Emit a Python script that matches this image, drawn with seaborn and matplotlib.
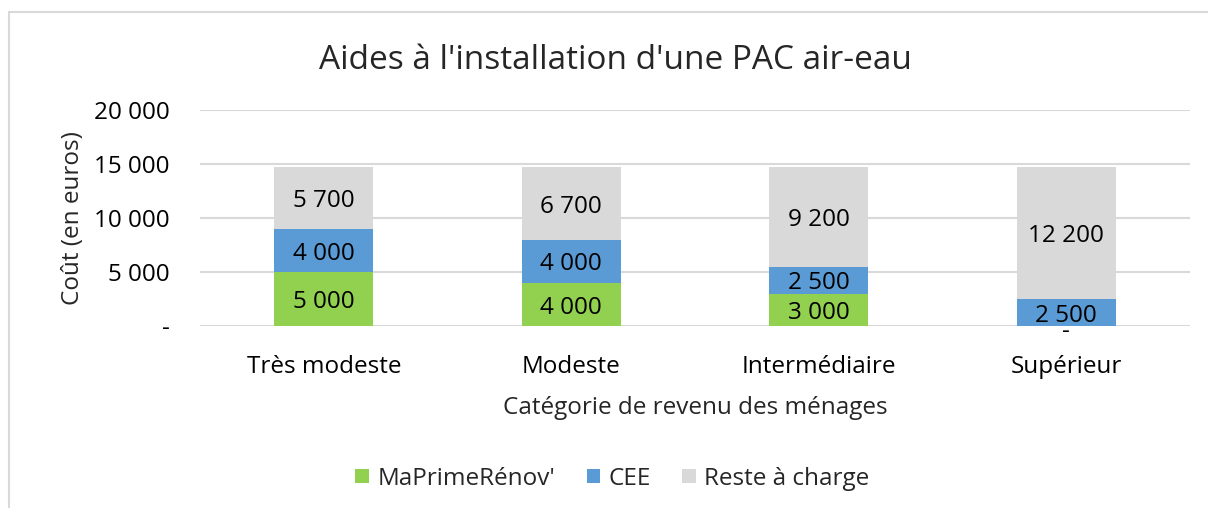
import numpy as np
import pandas as pd
import matplotlib.pyplot as plt
import seaborn as sns
from matplotlib.patches import Patch, Rectangle
from matplotlib.ticker import FuncFormatter

categories = ["Très modeste", "Modeste", "Intermédiaire", "Supérieur"]
maprimerenov = [5000, 4000, 3000, 0]
cee = [4000, 4000, 2500, 2500]
reste = [5700, 6700, 9200, 12200]

series = ["MaPrimeRénov'", "CEE", "Reste à charge"]
colors = ["#92D050", "#5B9BD5", "#D9D9D9"]

df = pd.DataFrame({"cat": categories, series[0]: maprimerenov,
                   series[1]: cee, series[2]: reste})
cum = df[series].cumsum(axis=1)

sns.set_style("white")
plt.rcParams['font.family'] = ['Open Sans', 'DejaVu Sans']
fs = 17.5

fig = plt.figure(figsize=(12.08, 5.08), dpi=100)
ax = fig.add_axes([0.1656, 0.3583, 0.8194, 0.4252])

# stacked bars: draw cumulative totals from top to bottom
for s, c in reversed(list(zip(series, colors))):
    sns.barplot(x=df["cat"], y=cum[s], color=c, width=0.4, ax=ax,
                saturation=1, linewidth=0, zorder=3)

def fmt(v):
    if v == 0:
        return "-"
    return f"{int(v):,}".replace(",", " ")

for i in range(len(categories)):
    base = 0
    for s in series:
        v = df[s].iloc[i]
        y = base + v / 2 - 300 if v > 0 else -600
        ax.text(i, y, fmt(v), ha="center", va="center", fontsize=fs,
                color="#000000", zorder=5, clip_on=False)
        base += v

ax.set_ylim(0, 20000)
ax.set_xlim(-0.5, 3.5)
ax.set_yticks([0, 5000, 10000, 15000, 20000])
ax.yaxis.set_major_formatter(FuncFormatter(lambda v, p: fmt(v)))
ax.grid(axis="y", color="#D9D9D9", linewidth=1.5, zorder=0)
ax.set_axisbelow(True)
for sp in ax.spines.values():
    sp.set_visible(False)
ax.tick_params(axis="both", length=0, labelsize=fs, colors="#000000")
ax.tick_params(axis="x", pad=21)
ax.tick_params(axis="y", pad=22)

ax.set_xlabel("Catégorie de revenu des ménages", fontsize=fs, labelpad=12)
ax.set_ylabel("Coût (en euros)", fontsize=fs, labelpad=6)

fig.text(0.5095, 0.88, "Aides à l'installation d'une PAC air-eau",
         ha="center", va="center", fontsize=24)

handles = [Patch(facecolor=c, edgecolor="none") for c in colors]
fig.legend(handles, series, loc="center", bbox_to_anchor=(0.507, 0.058),
           ncol=3, frameon=False, fontsize=fs, handlelength=0.55,
           handleheight=0.55, handletextpad=0.35, columnspacing=1.3)

fig.patches.append(Rectangle((9 / 1208, -0.05), 1.1, 1 - 12 / 508 + 0.05,
                             transform=fig.transFigure, fill=False,
                             edgecolor="#D9D9D9", linewidth=1.5))

fig.savefig("out.png", dpi=100, facecolor="white")
